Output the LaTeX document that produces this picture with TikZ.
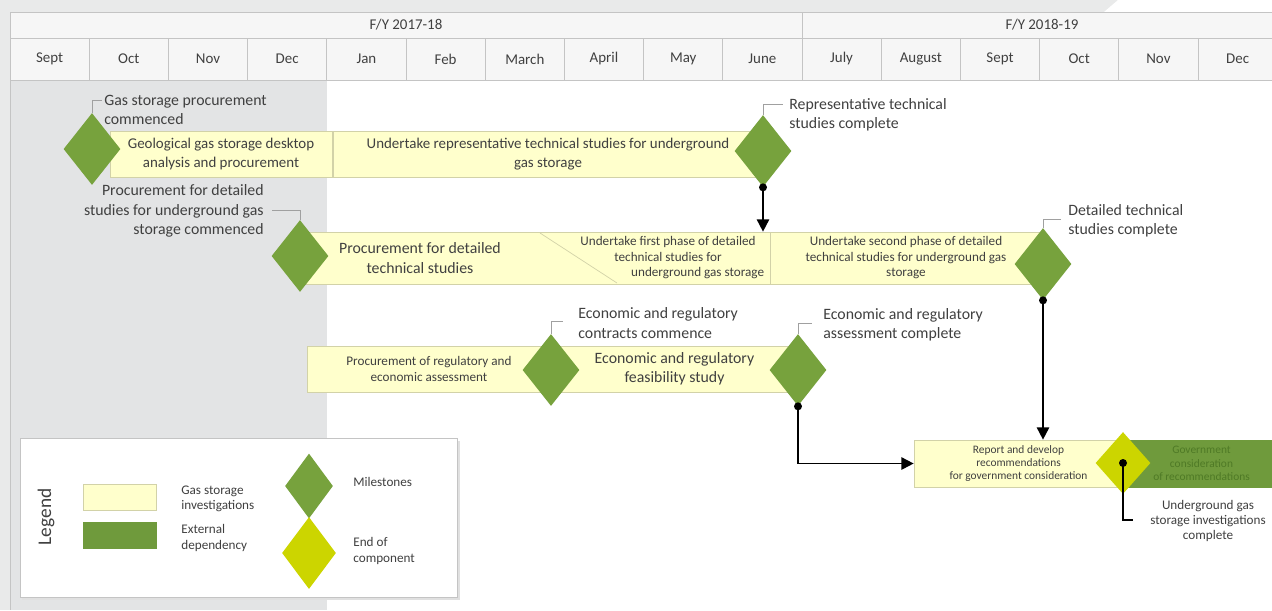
\documentclass[tikz,border=0pt]{standalone}
\usepackage{fontspec}
\setmainfont{Carlito}
\usepackage{xcolor}
\usepackage{tikz}
\usetikzlibrary{shapes.geometric,arrows.meta}
\definecolor{txt}{HTML}{404040}
\definecolor{page}{HTML}{E9EAEA}
\definecolor{greycol}{HTML}{E3E4E5}
\definecolor{gridline}{HTML}{C4C4C4}
\definecolor{hdrbg}{HTML}{F6F6F6}
\definecolor{barbg}{HTML}{FFFFCC}
\definecolor{barline}{HTML}{D2D2A8}
\definecolor{msgreen}{HTML}{77A23D}
\definecolor{extgreen}{HTML}{6F9A3C}
\definecolor{exttext}{HTML}{4F7A26}
\definecolor{eocyellow}{HTML}{CCD500}
\definecolor{leadgrey}{HTML}{A0A0A0}
\tikzset{
  hdr/.style={draw=gridline, fill=hdrbg, text=txt, inner sep=0pt, font=\fontsize{8.5}{10}\selectfont},
  fy/.style={hdr, minimum height=0.52cm},
  mon/.style={hdr, minimum width=1.584cm, minimum height=0.84cm},
  bar/.style={draw=barline, fill=barbg, text=txt, align=center, inner sep=0pt, font=\fontsize{8.5}{10.5}\selectfont},
  ext/.style={bar, draw=extgreen, fill=extgreen, text=exttext},
  ms/.style={diamond, fill=msgreen, inner sep=0pt, minimum width=1.14cm, minimum height=1.44cm},
  eoc/.style={diamond, fill=eocyellow, inner sep=0pt, minimum width=1.1cm, minimum height=1.24cm},
  lbl/.style={text=txt, align=left, inner sep=0pt, font=\fontsize{9}{11}\selectfont},
  sml/.style={text=txt, align=center, inner sep=0pt, font=\fontsize{7.5}{8.8}\selectfont},
  key/.style={text=txt, align=left, inner sep=0pt, font=\fontsize{7.5}{8.8}\selectfont},
  lead/.style={draw=leadgrey, line width=0.5pt},
  flow/.style={draw=black, line width=1pt, -{Triangle[length=7pt,width=7pt]}},
  dot/.style={circle, fill=black, inner sep=0pt, minimum size=0.16cm}
}
\begin{document}
\begin{tikzpicture}[x=0.02cm,y=-0.02cm]
\useasboundingbox (0,0) rectangle (1272,610);
% page and shaded months
\fill[page] (0,0) rectangle (1272,610);
\fill[white] (10,12) rectangle (1272,610);
\fill[white] (1104,12) -- (1118,0) -- (1272,0) -- (1272,12) -- cycle;
\fill[greycol] (10,80) rectangle (327,610);
\draw[gridline] (10,12) -- (10,610);

% financial years
\node[fy, minimum width=15.84cm] (fy1) at (406,25) {F/Y 2017-18};
\node[fy, minimum width=9.6cm] (fy2) at (1042,25) {F/Y 2018-19};

% months
\node[mon] (m1) at (49.6,59) {Sept};
\node[mon] (m2) at (128.8,59) {Oct};
\node[mon] (m3) at (208,59) {Nov};
\node[mon] (m4) at (287.2,59) {Dec};
\node[mon] (m5) at (366.4,59) {Jan};
\node[mon] (m6) at (445.6,59) {Feb};
\node[mon] (m7) at (524.8,59) {March};
\node[mon] (m8) at (604,59) {April};
\node[mon] (m9) at (683.2,59) {May};
\node[mon] (m10) at (762.4,59) {June};
\node[mon] (m11) at (841.6,59) {July};
\node[mon] (m12) at (920.8,59) {August};
\node[mon] (m13) at (1000,59) {Sept};
\node[mon] (m14) at (1079.2,59) {Oct};
\node[mon] (m15) at (1158.4,59) {Nov};
\node[mon] (m16) at (1237.6,59) {Dec};

% representative studies
\node[bar, minimum width=4.44cm, minimum height=0.92cm] (geo) at (221,154) {Geological gas storage desktop\\analysis and procurement};
\node[bar, minimum width=8.6cm, minimum height=0.92cm] (rep) at (548,154) {Undertake representative technical studies for underground\\gas storage};
\node[ms] (ms1) at (92,149) {};
\node[ms] (repdone) at (763,151) {};
\node[lbl, anchor=west] (l1) at (104,110) {Gas storage procurement\\commenced};
\node[lbl, anchor=west] (l2) at (789,115) {Representative technical\\studies complete};

% detailed studies
\node[bar, minimum width=9.4cm, minimum height=1.04cm] (det1) at (535,258) {};
\node[bar, minimum width=5.46cm, minimum height=1.04cm] (det2) at (906.5,258) {};
\draw[barline] (540,233) -- (617,283);
\node[lbl, align=center] (proc) at (420,258) {Procurement for detailed\\technical studies};
\node[sml] (phase1) at (668,258) {Undertake first phase of detailed\\technical studies for\\\hspace*{4.5em}underground gas storage};
\node[sml] (phase2) at (906,258) {Undertake second phase of detailed\\technical studies for underground gas\\storage};
\node[ms] (pdet) at (300,256) {};
\node[ms] (dcomp) at (1043,264) {};
\node[lbl, anchor=east, align=right] (l3) at (264,211) {Procurement for detailed\\studies for underground gas\\storage commenced};
\node[lbl, anchor=west] (l4) at (1068,221) {Detailed technical\\studies complete};

% economic and regulatory
\node[bar, font=\fontsize{7.5}{8.8}\selectfont, minimum width=4.88cm, minimum height=0.92cm] (econ1) at (429,369) {Procurement of regulatory and\\economic assessment};
\node[bar, font=\fontsize{9}{11}\selectfont, minimum width=4.94cm, minimum height=0.92cm] (econ2) at (674.5,369) {Economic and regulatory\\feasibility study};
\node[ms] (ecs) at (551,370) {};
\node[ms] (ecc) at (798,370) {};
\node[lbl, anchor=west] (l5) at (578,323) {Economic and regulatory\\contracts commence};
\node[lbl, anchor=west] (l6) at (823,325) {Economic and regulatory\\assessment complete};

% report and government
\node[bar, font=\fontsize{6.5}{7.6}\selectfont, minimum width=4.18cm, minimum height=0.94cm] (rpt) at (1018.5,463.5) {Report and develop\\recommendations\\for government consideration};
\node[ext, font=\fontsize{6.5}{7.6}\selectfont, minimum width=3.14cm, minimum height=0.94cm] (gov) at (1201.5,463.5) {Government\\consideration\\of recommendations};
\node[eoc] (end) at (1123,463) {};
\node[sml] (l7) at (1208,521) {Underground gas\\storage investigations\\complete};

% callouts
\draw[lead] (ms1.north) -- ++(0,-12) -- ++(10,0);
\draw[lead] (repdone.north) -- ++(0,-10) -- ++(20,0);
\draw[lead] (pdet.north) -- ++(0,-9) -- ++(-28,0);
\draw[lead] (dcomp.north) -- ++(0,-8) -- ++(18,0);
\draw[lead] (ecs.north) -- ++(0,-12) -- ++(12,0);
\draw[lead] (ecc.north) -- ++(0,-10) -- ++(14,0);
\draw[line width=1pt] (end.center) -- ++(0,57) -- ++(10,0);

% dependencies
\draw[flow] (repdone.south) -- (repdone.south |- det1.north);
\draw[flow] (dcomp.south) -- (dcomp.south |- rpt.north);
\draw[flow] (ecc.south) |- (rpt.west);
\node[dot] (d1) at (repdone.south) {};
\node[dot] (d2) at (dcomp.south) {};
\node[dot] (d3) at (ecc.south) {};
\node[dot] (d4) at (end.center) {};

% legend
\fill[black!12] (22,441) rectangle (460,600);
\draw[draw=gridline, fill=white] (20,438) rectangle (457,597);
\node[rotate=90, text=txt, font=\fontsize{11}{13}\selectfont] (legtitle) at (46,517) {Legend};
\node[bar, minimum width=1.46cm, minimum height=0.52cm] (keybar) at (120,497) {};
\node[ext, minimum width=1.46cm, minimum height=0.52cm] (keyext) at (120,535) {};
\node[key, anchor=west] (keybartxt) at (181,499) {Gas storage\\investigations};
\node[key, anchor=west] (keyexttxt) at (181,538) {External\\dependency};
\node[ms, minimum width=0.96cm, minimum height=1.3cm] (keyms) at (309,486) {};
\node[eoc, minimum width=1.08cm, minimum height=1.44cm] (keyeoc) at (309,553) {};
\node[key, anchor=west] (keymstxt) at (353,482) {Milestones};
\node[key, anchor=west] (keyeoctxt) at (353,551) {End of\\component};
\end{tikzpicture}
\end{document}
